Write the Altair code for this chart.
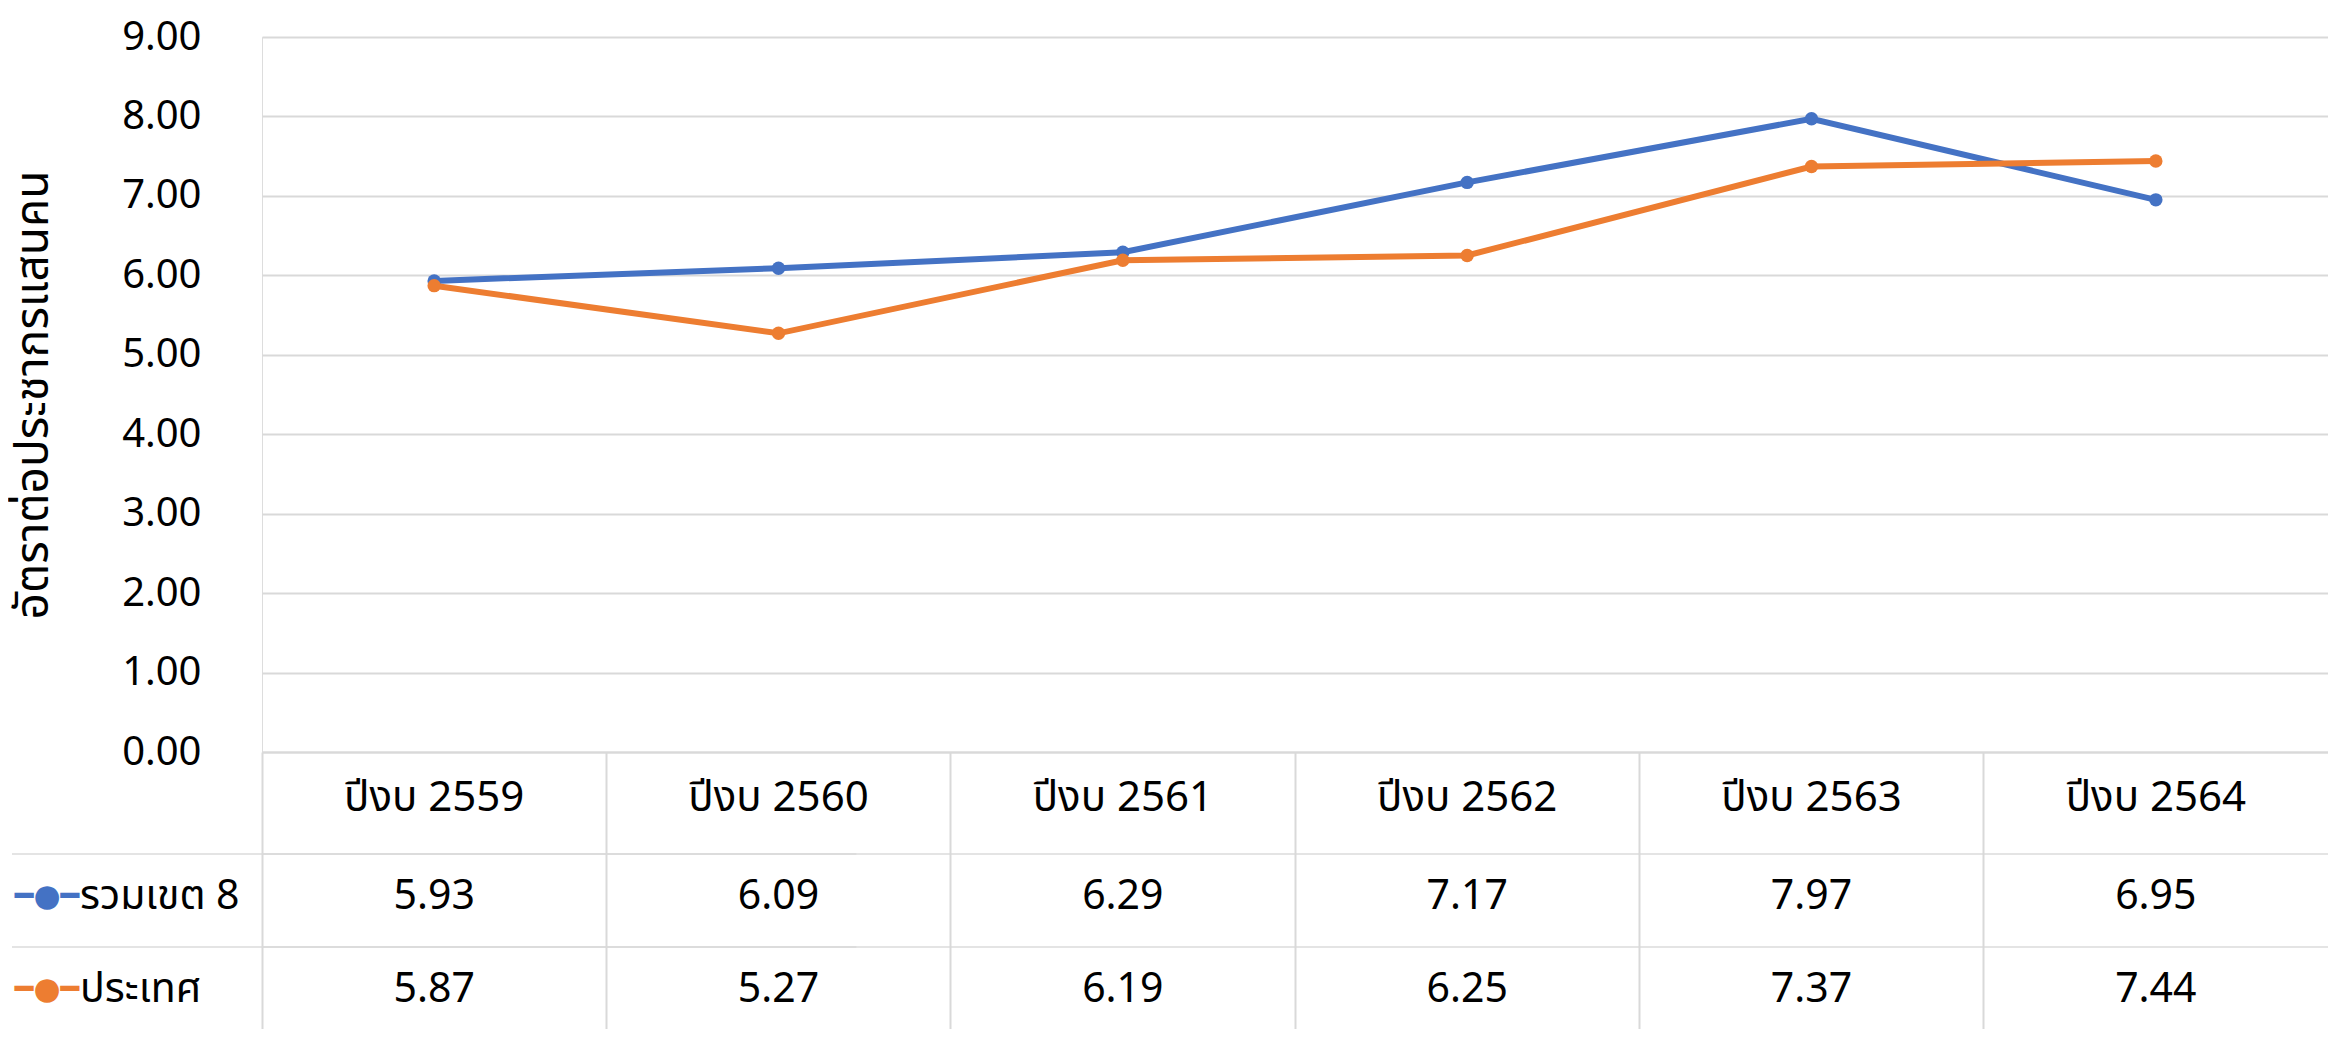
import altair as alt
import pandas as pd

categories = ["ปีงบ 2559", "ปีงบ 2560", "ปีงบ 2561", "ปีงบ 2562", "ปีงบ 2563", "ปีงบ 2564"]
series_names = ["รวมเขต 8", "ประเทศ"]
region8 = [5.93, 6.09, 6.29, 7.17, 7.97, 6.95]
country = [5.87, 5.27, 6.19, 6.25, 7.37, 7.44]
colors = ["#4472C4", "#ED7D31"]
y_ticks = [0, 1, 2, 3, 4, 5, 6, 7, 8, 9]
y_title = "อัตราต่อประชากรแสนคน"

rows = []
for s, vals in zip(series_names, [region8, country]):
    for c, v in zip(categories, vals):
        rows.append({"category": c, "series": s, "value": v, "label": f"{v:.2f}"})
df = pd.DataFrame(rows)
cat_df = pd.DataFrame({"category": categories})
first_df = pd.DataFrame({"category": [categories[0]]})

FONT = "Noto Sans, Noto Sans Thai, Tahoma, sans-serif"
FS = 41
W = 2066
H = 715
GRID = "#D9D9D9"
STEP = W / len(categories)

xscale = alt.Scale(type="band", domain=categories, paddingInner=0, paddingOuter=0)
yscale = alt.Scale(domain=[0, 9], nice=False, zero=True)
cscale = alt.Scale(domain=series_names, range=colors)

base = alt.Chart(df)

lines = base.mark_line(strokeWidth=6).encode(
    x=alt.X(
        "category:N",
        scale=xscale,
        axis=alt.Axis(
            orient="bottom",
            labels=False,
            title=None,
            grid=False,
            domain=True,
            domainColor=GRID,
            domainWidth=2,
            ticks=True,
            tickSize=295,
            tickColor=GRID,
            tickWidth=2,
            bandPosition=0,
        ),
    ),
    y=alt.Y(
        "value:Q",
        scale=yscale,
        axis=alt.Axis(
            values=y_ticks,
            format=".2f",
            grid=True,
            gridColor=GRID,
            gridWidth=2,
            domain=False,
            ticks=False,
            labelFontSize=40,
            labelFont=FONT,
            labelColor="#000000",
            labelPadding=61,
            title=y_title,
            titleFont=FONT,
            titleFontSize=46,
            titleFontWeight="normal",
            titleColor="#000000",
            titlePadding=64,
        ),
    ),
    color=alt.Color("series:N", scale=cscale, legend=None),
)

points = base.mark_point(filled=True, size=180, opacity=1).encode(
    x=alt.X("category:N", scale=xscale),
    y=alt.Y("value:Q", scale=yscale),
    color=alt.Color("series:N", scale=cscale, legend=None),
)

header = alt.Chart(cat_df).mark_text(
    font=FONT, fontSize=42, color="#000000", baseline="middle", align="center"
).encode(
    x=alt.X("category:N", scale=xscale),
    y=alt.value(761),
    text="category:N",
)

# horizontal table rules between rows (cell width ticks), plus a wide one
# on the first column reaching into the legend column
row_lines = []
for yy in [817, 910]:
    row_lines.append(
        alt.Chart(cat_df).mark_tick(orient="horizontal", size=STEP, thickness=2, color=GRID).encode(
            x=alt.X("category:N", scale=xscale),
            y=alt.value(yy),
        )
    )
    row_lines.append(
        alt.Chart(first_df).mark_tick(
            orient="horizontal", size=2 * (STEP / 2 + 250), thickness=2, color=GRID
        ).encode(
            x=alt.X("category:N", scale=xscale),
            y=alt.value(yy),
        )
    )

row_y = [860, 953]
table_layers = []
for s, ry in zip(series_names, row_y):
    sub = df[df["series"] == s].reset_index(drop=True)
    table_layers.append(
        alt.Chart(sub)
        .mark_text(font=FONT, fontSize=FS, color="#000000", baseline="middle", align="center")
        .encode(
            x=alt.X("category:N", scale=xscale),
            y=alt.value(ry),
            text="label:N",
        )
    )
    leg = pd.DataFrame({"category": [categories[0]], "series": [s], "symbol": ["━●━"]})
    table_layers.append(
        alt.Chart(leg)
        .mark_text(
            font=FONT, fontSize=FS, color="#000000", baseline="middle", align="left",
            dx=-(STEP / 2 + 182),
        )
        .encode(
            x=alt.X("category:N", scale=xscale),
            y=alt.value(ry),
            text="series:N",
        )
    )
    table_layers.append(
        alt.Chart(leg)
        .mark_text(
            font="DejaVu Sans", fontSize=31, baseline="middle", align="center",
            dx=-(STEP / 2 + 215),
        )
        .encode(
            x=alt.X("category:N", scale=xscale),
            y=alt.value(ry),
            text="symbol:N",
            color=alt.Color("series:N", scale=cscale, legend=None),
        )
    )

chart = alt.layer(
    *row_lines, lines, points, header, *table_layers
).properties(
    width=W,
    height=H,
    autosize=alt.AutoSizeParams(type="none"),
    padding={"left": 254, "top": 29, "right": 0, "bottom": 277},
)

chart.save("out.html", embed_options={"renderer": "svg", "actions": False})
